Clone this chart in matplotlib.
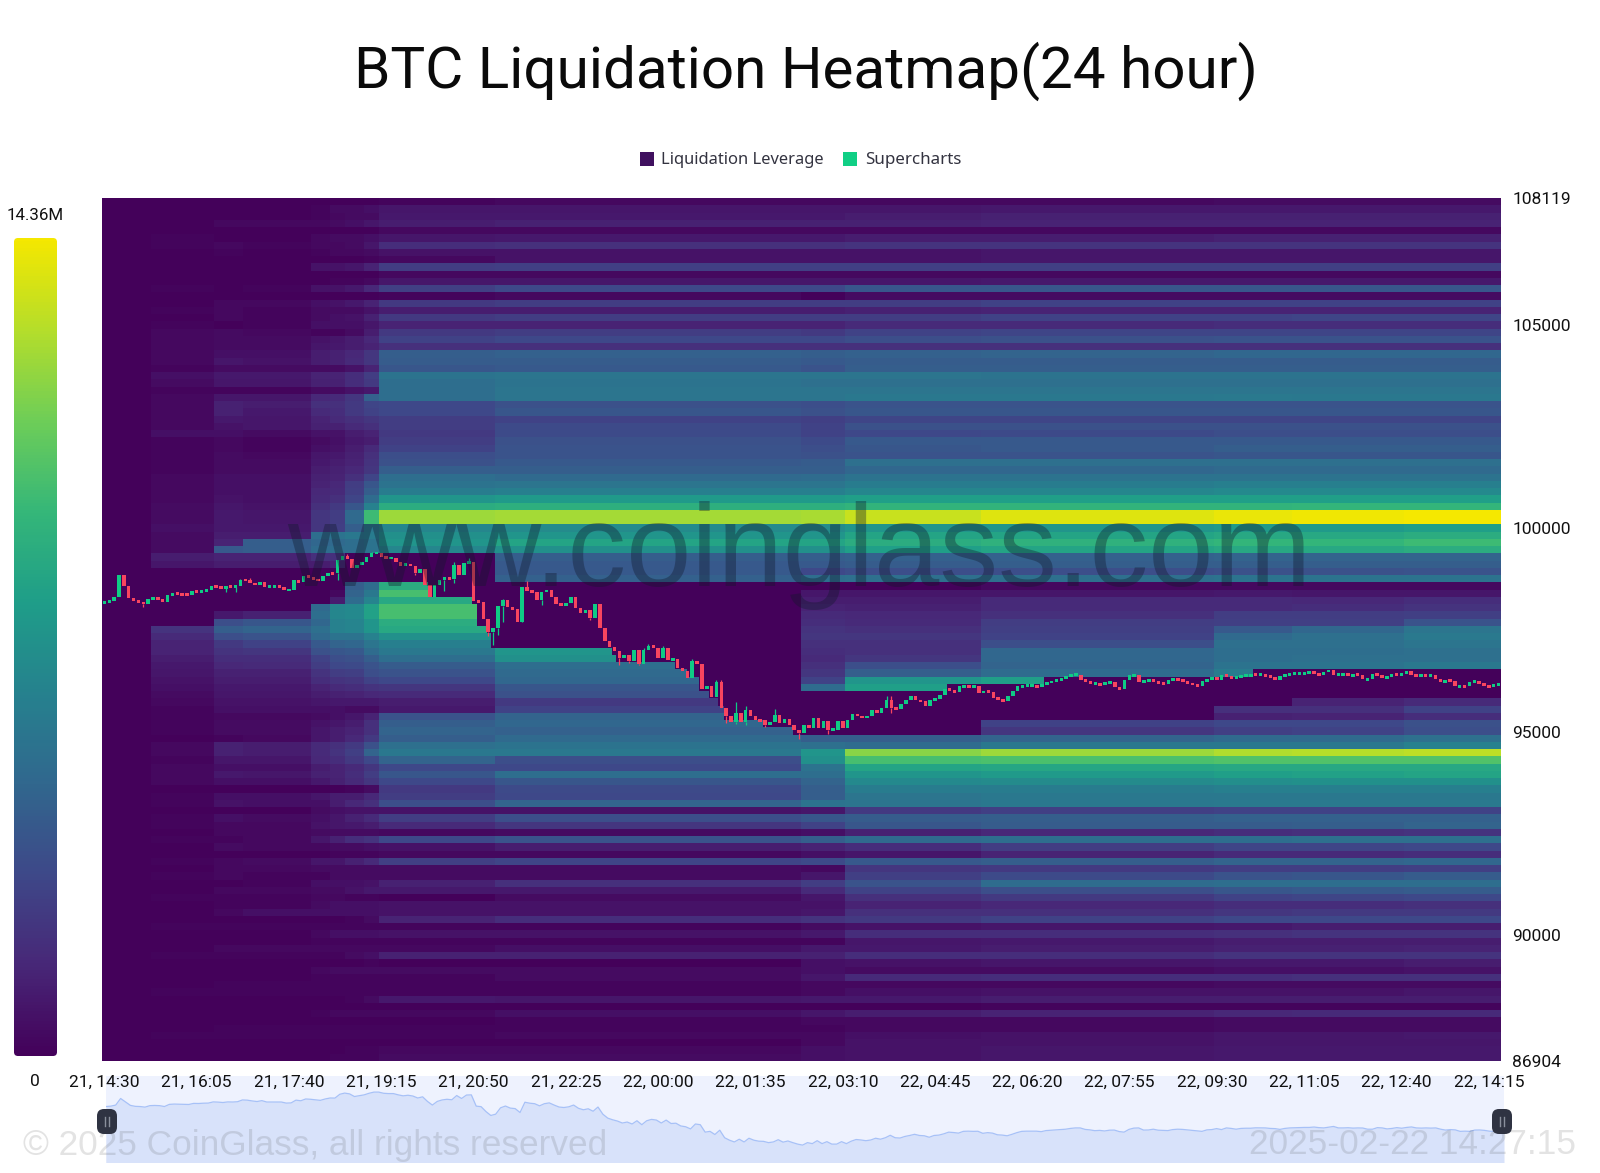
import numpy as np
import matplotlib
matplotlib.use('Agg')
import matplotlib.pyplot as plt
from matplotlib.colors import LinearSegmentedColormap
from matplotlib.patches import FancyBboxPatch, Rectangle

# ---------- data ----------
price_top = 108119
price_bottom = 86904
ytick_values = [108119, 105000, 100000, 95000, 90000, 86904]
xtick_candles = [0, 19, 38, 57, 76, 95, 114, 133, 152, 171, 190, 209, 228, 247, 266, 285]
xtick_labels = ['21, 14:30', '21, 16:05', '21, 17:40', '21, 19:15', '21, 20:50', '21, 22:25',
                '22, 00:00', '22, 01:35', '22, 03:10', '22, 04:45', '22, 06:20', '22, 07:55',
                '22, 09:30', '22, 11:05', '22, 12:40', '22, 14:15']

# heatmap column edges in candle numbers
col_edges = [-0.5, 9.5, 22.5, 28.5, 42.5, 46.5, 49.5, 53.5, 56.5, 80.5,
             143.5, 152.5, 180.5, 228.5, 244.5, 267.5, 287.5]

# percent of the 14.36M maximum, one line per price row from the top
heat_rows = [
    [0,0,0,0,0,0,0,0,1,2,2,2,2,3,3,3],
    [0,0,0,0,1,3,3,4,6,6,6,6,7,7,7,7],
    [0,0,0,0,1,2,3,3,7,7,7,8,9,9,9,9],
    [0,0,2,2,2,3,4,6,8,9,9,9,10,10,10,10],
    [0,0,0,0,0,0,0,0,2,2,2,2,2,2,2,2],
    [0,1,0,0,2,3,3,4,6,7,7,8,8,9,9,9],
    [0,1,2,1,2,2,3,6,13,14,14,15,15,15,15,15],
    [0,0,1,0,1,2,2,3,5,5,5,5,6,6,6,6],
    [0,0,0,0,0,0,0,1,2,5,5,5,6,6,6,6],
    [0,0,0,0,5,5,6,10,18,19,19,19,19,19,19,19],
    [0,0,0,0,0,0,0,0,2,2,2,2,2,2,2,2],
    [0,0,0,0,0,1,1,2,6,6,6,6,7,7,7,7],
    [0,1,0,1,5,5,7,11,19,22,22,27,27,27,27,27],
    [0,0,0,0,0,0,0,0,1,2,0,3,3,3,3,3],
    [0,0,2,2,4,5,7,10,17,18,18,18,20,20,20,20],
    [0,1,2,1,3,3,3,5,8,8,8,9,10,10,10,10],
    [0,0,2,1,3,4,5,9,17,18,18,18,20,20,21,21],
    [0,1,0,1,4,4,4,6,10,10,10,12,12,13,13,13],
    [0,2,3,2,1,1,3,8,17,18,17,20,21,21,21,21],
    [0,2,3,3,5,6,8,11,20,22,22,24,25,26,26,26],
    [0,2,3,3,6,7,8,10,14,14,14,14,14,14,14,14],
    [0,2,4,4,8,9,11,16,30,31,30,31,32,33,33,33],
    [0,2,6,5,8,9,12,16,29,29,28,29,29,29,29,29],
    [0,1,3,3,3,3,5,10,27,28,26,30,30,30,30,30],
    [0,4,7,7,10,10,13,18,38,39,39,39,38,38,38,38],
    [0,3,6,6,9,9,13,17,36,38,37,37,37,37,37,37],
    [0,1,1,1,3,3,5,7,36,39,39,39,39,39,39,39],
    [0,2,6,6,11,12,16,31,36,39,39,40,40,41,40,40],
    [0,2,9,8,14,14,17,21,22,25,24,26,26,26,26,26],
    [0,2,9,7,12,13,17,20,22,27,25,27,27,27,27,27],
    [0,2,7,6,10,12,14,16,18,20,19,21,21,21,21,21],
    [0,2,5,6,9,9,12,14,18,23,20,25,25,25,25,25],
    [0,4,4,3,5,5,8,10,17,23,20,22,23,24,24,24],
    [0,1,2,1,3,4,7,8,18,25,23,28,28,28,28,28],
    [0,1,2,1,4,5,8,12,20,26,24,27,28,30,30,30],
    [0,1,3,2,6,7,9,14,24,26,25,26,26,27,27,27],
    [0,1,3,3,7,8,10,15,25,28,29,37,37,37,37,37],
    [0,1,3,3,8,9,11,16,30,30,30,33,33,34,34,34],
    [0,2,4,4,9,10,14,21,36,34,35,38,38,38,38,38],
    [0,2,4,4,10,11,18,27,38,39,39,42,42,43,43,43],
    [0,2,4,4,11,12,19,30,42,43,43,46,46,47,47,47],
    [0,2,5,4,12,14,21,35,52,54,54,56,56,56,56,56],
    [0,3,6,5,14,17,27,44,62,63,63,65,65,65,66,66],
    [0,3,7,6,16,18,34,68,85,86,87,92,96,98,99,100],
    [0,3,7,6,16,18,34,68,85,86,87,92,96,98,99,100],
    [0,4,7,7,16,19,30,40,46,48,48,52,52,54,54,56],
    [0,3,8,8,36,38,40,42,50,52,52,58,58,60,60,62],
    [0,3,10,30,33,34,36,38,52,58,58,62,64,66,66,68],
    [0,3,28,30,35,36,36,38,46,50,50,56,58,60,60,62],
    [0,8,10,10,14,14,0,0,0,30,30,31,31,32,32,32],
    [0,6,8,8,8,10,0,0,0,28,28,29,30,30,30,30],
    [0,0,0,0,0,0,0,0,0,28,22,24,24,25,25,26],
    [0,0,0,0,0,0,0,0,0,31,36,37,37,38,38,38],
    [0,0,0,0,0,0,30,35,62,0,0,0,2,2,2,2],
    [0,0,0,0,0,2,32,40,70,0,6,6,6,7,6,6],
    [0,0,0,0,0,8,35,45,60,0,8,8,12,12,11,13],
    [0,0,0,0,34,46,47,57,70,0,10,9,12,12,13,15],
    [0,0,7,9,36,46,47,57,70,0,12,11,14,18,18,19],
    [0,0,24,27,33,44,45,52,62,0,13,12,18,19,19,26],
    [0,15,30,32,37,44,45,52,60,0,15,14,19,28,33,39],
    [0,12,24,26,34,38,38,44,50,0,16,16,20,34,37,41],
    [0,10,17,20,28,32,33,39,43,0,14,14,24,37,37,39],
    [0,10,15,16,25,27,28,35,40,52,13,14,33,36,36,37],
    [0,8,13,13,20,24,25,30,36,50,12,16,33,36,37,37],
    [0,7,11,12,18,22,23,26,29,36,14,24,32,38,38,40],
    [0,6,9,9,15,18,19,24,26,34,16,30,35,42,0,0],
    [0,5,8,8,13,15,16,20,22,33,20,52,56,0,0,0],
    [0,4,7,7,10,12,13,15,16,27,35,56,0,0,0,0],
    [0,3,6,6,8,9,10,11,12,25,0,0,0,0,0,0],
    [0,2,5,5,6,7,7,7,8,17,0,0,0,0,10,12],
    [0,1,4,4,4,4,3,3,7,20,0,0,0,14,14,20],
    [0,1,2,2,3,4,6,10,26,32,0,0,0,9,10,13],
    [0,1,3,3,5,6,8,14,30,33,0,0,20,22,22,25],
    [0,1,3,3,6,8,10,14,32,31,0,0,16,19,20,24],
    [0,0,1,2,6,8,11,17,30,34,30,30,32,34,34,37],
    [0,2,9,8,12,14,17,25,37,38,37,35,40,40,40,44],
    [0,2,9,8,12,15,19,32,40,40,52,82,85,88,89,90],
    [0,1,6,6,11,13,17,22,32,24,50,70,71,72,72,72],
    [0,2,4,4,8,10,12,16,22,22,38,58,59,60,60,60],
    [0,2,7,6,9,10,13,18,27,36,36,52,54,56,57,58],
    [0,2,4,4,7,9,12,16,22,27,32,47,48,49,50,50],
    [0,0,0,0,0,0,1,3,17,23,30,42,42,43,43,43],
    [0,1,4,4,6,8,8,11,18,22,30,39,40,40,40,40],
    [0,1,5,4,4,8,11,14,24,32,38,39,40,41,41,41],
    [0,0,0,0,3,4,5,5,5,5,6,17,19,20,20,20],
    [0,1,4,3,4,6,9,12,18,24,27,29,30,31,31,31],
    [0,1,2,2,5,6,7,8,12,16,20,27,29,29,30,32],
    [0,0,2,2,3,3,3,3,2,3,4,9,11,13,14,15],
    [0,1,1,2,6,9,13,15,22,26,30,34,36,36,37,37],
    [0,0,3,2,2,3,3,4,5,8,10,13,18,21,21,22],
    [0,0,0,0,0,1,1,1,2,2,4,6,10,12,12,13],
    [0,1,2,3,6,6,9,12,19,21,23,28,30,32,32,33],
    [0,0,2,2,3,3,3,3,3,3,2,16,17,18,18,19],
    [0,1,2,1,1,3,3,3,3,3,6,19,23,26,27,29],
    [0,0,0,1,4,4,4,5,9,14,18,26,35,36,36,36],
    [0,0,2,2,3,3,5,7,7,7,12,20,24,27,28,29],
    [0,1,1,1,2,2,1,1,0,3,6,14,17,20,21,22],
    [0,0,1,1,3,4,4,4,5,5,5,10,11,13,13,14],
    [0,0,2,4,4,4,4,4,5,5,6,14,14,16,17,17],
    [0,0,0,0,0,0,1,3,10,13,15,17,20,22,22,22],
    [0,1,1,1,1,1,1,1,1,1,3,5,6,7,8,8],
    [0,0,0,0,2,4,4,4,5,5,7,13,13,14,15,15],
    [0,0,0,0,1,1,1,1,1,1,1,6,7,8,8,8],
    [0,0,2,2,2,2,2,2,2,4,7,7,8,9,9,10],
    [0,1,1,1,1,1,3,4,9,9,9,13,13,15,15,15],
    [0,0,0,0,0,0,0,1,0,0,4,5,6,7,7,8],
    [0,0,0,0,2,3,3,3,3,3,4,3,3,4,4,5],
    [0,0,0,0,1,1,1,1,1,3,6,12,13,13,14,14],
    [0,0,1,1,1,1,1,1,1,1,2,2,2,3,3,3],
    [0,1,1,1,1,1,1,1,1,1,2,4,5,5,5,6],
    [0,0,0,0,0,0,1,3,7,6,7,7,8,8,8,8],
    [0,0,0,0,0,0,0,0,0,0,0,0,1,1,1,1],
    [0,0,0,0,1,2,2,2,2,4,6,8,10,11,12,12],
    [0,0,0,0,0,0,0,0,0,1,2,2,2,3,3,3],
    [0,0,1,1,1,1,1,1,1,1,1,2,2,3,3,3],
    [0,1,1,1,1,1,1,1,1,2,2,4,5,6,6,7],
    [0,0,0,0,0,0,0,0,0,0,2,5,5,6,6,6],
    [0,0,0,0,0,0,1,1,2,2,4,5,6,7,7,7],
    [0,0,0,0,0,1,1,1,3,3,4,5,6,7,7,7],
]

# stretch of rows wiped out by price: candle where it starts, first row, row after the last
clear_start = [49.5, 66.6, 75.6, 76.6, 78.7, 79.5, 80.5, 104.4, 105.4, 117.5, 119.9, 122.5, 124.5,
               126.4, 127.5, 135.5, 141.7, 143.5, 173.5, 180.5, 193.4, 228.5, 236.5, 244.5, 287.5]
clear_first = [49, 49, 49, 49, 49, 49, 53, 53, 53, 53, 53, 53, 53,
               53, 53, 53, 53, 68, 67, 67, 66, 66, 65, 65, 65]
clear_stop = [53, 55, 56, 59, 60, 62, 62, 63, 64, 65, 66, 68, 69,
              70, 72, 73, 74, 74, 74, 72, 72, 70, 70, 69, 69]

first_open = 98160
closes = [
    98187, 98219, 98310, 98859, 98572, 98285, 98203, 98187, 98137, 98260, 98277, 98260,
    98187, 98367, 98392, 98383, 98367, 98359, 98449, 98441, 98465, 98474, 98572, 98556,
    98523, 98572, 98564, 98588, 98736, 98720, 98654, 98605, 98679, 98564, 98564, 98572,
    98564, 98474, 98490, 98720, 98670, 98818, 98793, 98752, 98703, 98818, 98900, 98892,
    99212, 99310, 99244, 99023, 99097, 99162, 99294, 99392, 99392, 99294, 99269, 99269,
    99162, 99080, 99130, 99064, 98900, 98998, 98613, 98310, 98613, 98736, 98793, 98752,
    99105, 98859, 99146, 99162, 98219, 98178, 97768, 97440, 97547, 98080, 98228, 98055,
    98014, 97686, 98547, 98465, 98424, 98244, 98424, 98490, 98310, 98146, 98105, 98162,
    98310, 98039, 97916, 97998, 97793, 98146,
    97547, 97219, 97080, 96973, 96809, 96891, 96727, 96998, 96670, 96998, 97112, 97055,
    96809, 97055, 96768, 96793, 96563, 96497, 96317, 96727, 96670, 96046, 96112, 95850,
    96210, 95579, 95374, 95226, 95456, 95226, 95538, 95374, 95292, 95276, 95169, 95226,
    95415, 95210, 95308, 95169, 95046, 94964, 95169, 95087, 95333, 95087, 95251, 95046,
    95046, 95251, 95087, 95292, 95431, 95390, 95333, 95390, 95538, 95456, 95579, 95784,
    95579, 95554, 95686, 95768, 95866, 95768, 95743, 95620, 95768, 95800, 95907, 96046,
    96014, 95964, 96112, 96128, 96112, 96120, 95948, 96005, 95964, 95825, 95800, 95743,
    95866, 96005, 96112, 96128, 96128, 96128, 96087,
    96178, 96210, 96235, 96260, 96292, 96358, 96399, 96399, 96276, 96235, 96169, 96194,
    96145, 96210, 96219, 96096, 96046, 96276, 96383, 96399, 96219, 96227, 96292, 96210,
    96194, 96178, 96260, 96292, 96276, 96235, 96194, 96153, 96112, 96235, 96260, 96342,
    96260, 96399, 96358, 96292, 96358, 96374, 96374, 96407, 96399, 96399, 96358, 96342,
    96276, 96358, 96399, 96415, 96440, 96440, 96440, 96473, 96424, 96399, 96457, 96522,
    96399, 96399, 96415, 96383, 96399, 96391, 96292, 96292, 96424, 96399, 96317, 96358,
    96424, 96374, 96440, 96481, 96399, 96383, 96399, 96383, 96399, 96292, 96219, 96260,
    96235, 96112, 96128, 96112, 96219, 96227, 96194, 96128, 96112, 96153, 96178,
]
# only the candles with a visible wick, candle number: price
wick_highs = {28: 98760, 30: 98777, 50: 99376, 55: 99408, 72: 99162, 75: 99269, 82: 98260, 87: 98695,
              111: 97060, 112: 97162, 115: 97112, 121: 96793, 126: 96260, 127: 96276, 130: 95718,
              132: 95636, 138: 95563, 161: 95882, 162: 95866}
wick_lows = {8: 98055, 25: 98424, 27: 98424, 48: 98736, 64: 98860, 70: 98465, 72: 98654, 79: 97342,
             80: 97137, 81: 97383, 82: 97686, 86: 97727, 90: 98121, 100: 97752, 106: 96645, 108: 96686,
             110: 96640, 128: 95210, 130: 95194, 132: 95169, 136: 95103, 143: 94825, 149: 94948, 162: 95456}

# ---------- figure ----------
W, H = 1600, 1173
fig = plt.figure(figsize=(W / 100, H / 100), dpi=100, facecolor='white')
tick_font = ['Roboto', 'DejaVu Sans']
wm_font = ['Liberation Sans', 'DejaVu Sans']


def box(l, t, r, b):
    return [l / W, 1 - b / H, (r - l) / W, (b - t) / H]


cmap = LinearSegmentedColormap.from_list('heat', ['#44015a', '#482878', '#3e4989', '#31688e', '#26828e',
                                                  '#1f9e89', '#35b779', '#6ece58', '#b5de2b', '#f5e800'])

# mini map below the chart
mini = fig.add_axes(box(106, 1075.5, 1504, 1162.5), zorder=1, facecolor='#eef2fe')
mini.set_xlim(0, len(closes) - 1)
mini.set_ylim(93510, 100780)
mini.fill_between(np.arange(len(closes)), closes, 93510, color='#d8e2fa', lw=0)
mini.plot(np.arange(len(closes)), closes, color='#a7c1f7', lw=0.9)
mini.axis('off')
mini.add_patch(Rectangle((0, 0), 1, 1, transform=mini.transAxes, color='#eef2fe', zorder=0, lw=0))

# main heatmap
ax = fig.add_axes(box(102, 198, 1501, 1061), zorder=2)
row_edges = np.linspace(price_top, price_bottom, len(heat_rows) + 1)
ax.pcolormesh(col_edges, row_edges, np.array(heat_rows), cmap=cmap, vmin=0, vmax=100,
              shading='flat', antialiased=False, zorder=1)
ax.fill_between(clear_start, row_edges[clear_first], row_edges[clear_stop], step='post',
                color=cmap(0.0), lw=0, zorder=2)

# candles
opens = np.array([first_open] + closes[:-1])
closes_a = np.array(closes)
candle_x = np.arange(len(closes))
up = closes_a >= opens
candle_colors = np.where(up, '#0fcb85', '#f8455f')
body_low = np.minimum(opens, closes_a)
body_high = np.maximum(opens, closes_a)
body_size = np.maximum(body_high - body_low, 70)
ax.bar(candle_x, body_size, bottom=(body_low + body_high - body_size) / 2, width=0.72,
       color=candle_colors, lw=0, zorder=3)
for i, p in wick_highs.items():
    ax.vlines(i, body_high[i], p, color=candle_colors[i], lw=0.9, zorder=3)
for i, p in wick_lows.items():
    ax.vlines(i, p, body_low[i], color=candle_colors[i], lw=0.9, zorder=3)

ax.set_xlim(-0.5, 287.5)
ax.set_ylim(price_bottom, price_top)
ax.set_xticks(xtick_candles)
ax.set_xticklabels(xtick_labels, family=tick_font, fontsize=12.5, color='#111111')
ax.set_yticks(ytick_values)
ax.set_yticklabels([str(v) for v in ytick_values], family=tick_font, fontsize=12.5, color='#111111')
ax.yaxis.tick_right()
ax.tick_params(axis='x', length=0, pad=10)
ax.tick_params(axis='y', length=0, pad=8)
for s in ax.spines.values():
    s.set_visible(False)

# everything around the chart, in picture pixels
ov = fig.add_axes([0, 0, 1, 1], zorder=3)
ov.set_xlim(0, W)
ov.set_ylim(H, 0)
ov.axis('off')

ov.text(806, 71, 'BTC Liquidation Heatmap(24 hour)', family=tick_font, fontsize=42, color='#0a0a0a',
        ha='center', va='center')

# legend
ov.add_patch(Rectangle((640, 152), 14, 14, color='#40105f', lw=0))
ov.text(661, 160, 'Liquidation Leverage', family=['Noto Sans', 'DejaVu Sans'], fontsize=11.9,
        color='#333340', ha='left', va='center')
ov.add_patch(Rectangle((843, 152), 14, 14, color='#10cf85', lw=0))
ov.text(865, 160, 'Supercharts', family=['Noto Sans', 'DejaVu Sans'], fontsize=12.2,
        color='#333340', ha='left', va='center')

# colour scale
grad = ov.imshow(np.linspace(100, 0, 256)[:, None], cmap=cmap, vmin=0, vmax=100, aspect='auto',
                 extent=(14, 57, 1056, 238), zorder=2)
bar_clip = FancyBboxPatch((17, 241), 37, 812, boxstyle='round,pad=3,rounding_size=4',
                          fc='none', ec='none', transform=ov.transData)
ov.add_patch(bar_clip)
grad.set_clip_path(bar_clip)
ov.set_xlim(0, W)
ov.set_ylim(H, 0)
ov.text(35.5, 215, '14.36M', family=tick_font, fontsize=12.2, color='#111111', ha='center', va='center')
ov.text(35, 1081, '0', family=tick_font, fontsize=12.5, color='#111111', ha='center', va='center')

# watermarks
ov.text(799, 586, 'www.coinglass.com', family=wm_font, fontsize=84.5, color='#10182a', alpha=0.36,
        ha='center', va='baseline', zorder=5)
ov.text(23, 1145, '\u00a9 2025 CoinGlass, all rights reserved', family=wm_font, fontsize=25.4,
        color='#444444', alpha=0.15, ha='left', va='center', zorder=5)
ov.text(1249, 1145, '2025-02-22 14:27:15', family=wm_font, fontsize=25.4, color='#444444', alpha=0.15,
        ha='left', va='center', zorder=5)

# slider handles
for cx in [107, 1502]:
    ov.add_patch(FancyBboxPatch((cx - 7, 1112), 14, 19, boxstyle='round,pad=3,rounding_size=7',
                                fc='#2f3342', ec='none', zorder=6))
    ov.plot([cx - 2, cx - 2], [1117, 1126], color='#8a8f9c', lw=1, zorder=7)
    ov.plot([cx + 2, cx + 2], [1117, 1126], color='#8a8f9c', lw=1, zorder=7)

fig.savefig('out.png', dpi=100)
